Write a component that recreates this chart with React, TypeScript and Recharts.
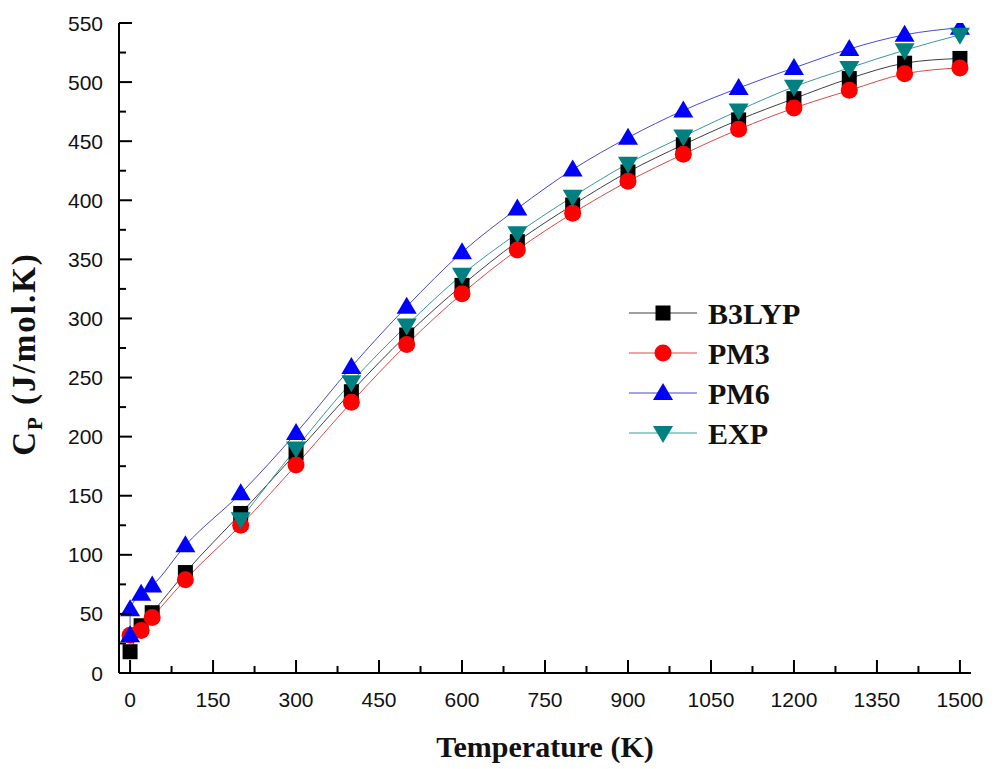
import React from 'react';
import { LineChart, Line, XAxis, YAxis, Legend } from 'recharts';

// temperatures (K)
const TEMPS = [0, 20, 40, 100, 200, 300, 400, 500, 600, 700, 800, 900, 1000, 1100, 1200, 1300, 1400, 1500];
const PM6_TEMPS = [0, 0, 20, 40, 100, 200, 300, 400, 500, 600, 700, 800, 900, 1000, 1100, 1200, 1300, 1400, 1500];
const EXP_TEMPS = [200, 300, 400, 500, 600, 700, 800, 900, 1000, 1100, 1200, 1300, 1400, 1500];

// Cp (J/mol.K)
const B3LYP_CP = [18, 40, 51, 85, 135, 186, 238, 286, 328, 365, 396, 424, 447, 468, 486, 503, 516, 520];
const PM3_CP = [32, 36, 47, 79, 125, 176, 229, 278, 321, 358, 389, 416, 439, 460, 478, 493, 507, 512];
const PM6_CP = [32, 54, 67, 74, 108, 152, 203, 259, 310, 356, 393, 426, 453, 476, 495, 512, 528, 540, 546];
const EXP_CP = [130, 190, 246, 294, 337, 372, 403, 431, 454, 476, 496, 512, 527, 540];

const X_TICKS = [0, 75, 150, 225, 300, 375, 450, 525, 600, 675, 750, 825, 900, 975, 1050, 1125, 1200, 1275, 1350, 1425, 1500];
const Y_TICKS = [0, 25, 50, 75, 100, 125, 150, 175, 200, 225, 250, 275, 300, 325, 350, 375, 400, 425, 450, 475, 500, 525, 550];

const toPoints = (t: number[], v: number[]) => t.map((T, i) => ({ T, cp: v[i] }));

const SERIES = [
  { name: 'B3LYP', data: toPoints(TEMPS, B3LYP_CP), fill: '#000000', line: '#404040', shape: 'square' },
  { name: 'PM3', data: toPoints(TEMPS, PM3_CP), fill: '#ff0000', line: '#e04848', shape: 'circle' },
  { name: 'PM6', data: toPoints(PM6_TEMPS, PM6_CP), fill: '#0000ff', line: '#4848d8', shape: 'up' },
  { name: 'EXP', data: toPoints(EXP_TEMPS, EXP_CP), fill: '#008080', line: '#3a9a9a', shape: 'down' },
];

const SANS = '"Liberation Sans", Arial, sans-serif';
const SERIF = '"Liberation Serif", "Times New Roman", serif';

const Marker = ({ shape, cx, cy, fill }: any) => {
  if (cx == null || cy == null) return null;
  if (shape === 'square') return <rect x={cx - 7.5} y={cy - 7.5} width={15} height={15} fill={fill} />;
  if (shape === 'circle') return <circle cx={cx} cy={cy} r={8.5} fill={fill} />;
  if (shape === 'up')
    return <polygon points={`${cx},${cy - 10} ${cx - 10},${cy + 7} ${cx + 10},${cy + 7}`} fill={fill} />;
  return <polygon points={`${cx - 10},${cy - 7} ${cx + 10},${cy - 7} ${cx},${cy + 10}`} fill={fill} />;
};

const tickText = { fontFamily: SANS, fontSize: 21, fill: '#111' };
const titleText = { fontFamily: SERIF, fontWeight: 'bold', fontSize: 30, fill: '#111' };

const BottomTick = ({ x, y, payload }: any) => {
  const major = payload.value % 150 === 0;
  return (
    <g>
      <line x1={x} y1={y} x2={x} y2={y - (major ? 13 : 7)} stroke="#000" strokeWidth={2} />
      {major && (
        <text x={x} y={y + 34} textAnchor="middle" style={tickText}>
          {payload.value}
        </text>
      )}
    </g>
  );
};

const TopTick = ({ x, y, payload }: any) => {
  const major = payload.value % 150 === 0;
  return <line x1={x} y1={y} x2={x} y2={y + (major ? 13 : 7)} stroke="#000" strokeWidth={2} />;
};

const LeftTick = ({ x, y, payload }: any) => {
  const major = payload.value % 50 === 0;
  return (
    <g>
      <line x1={x} y1={y} x2={x + (major ? 13 : 7)} y2={y} stroke="#000" strokeWidth={2} />
      {major && (
        <text x={x - 16} y={y} dy="0.36em" textAnchor="end" style={tickText}>
          {payload.value}
        </text>
      )}
    </g>
  );
};

const RightTick = ({ x, y, payload }: any) => {
  const major = payload.value % 50 === 0;
  return <line x1={x} y1={y} x2={x - (major ? 13 : 7)} y2={y} stroke="#000" strokeWidth={2} />;
};

const XTitle = ({ viewBox }: any) => (
  <text x={viewBox.x + viewBox.width / 2} y={viewBox.y + 84} textAnchor="middle" style={titleText}>
    Temperature (K)
  </text>
);

const YTitle = ({ viewBox }: any) => {
  const cx = viewBox.x - 14;
  const cy = viewBox.y + viewBox.height / 2 + 6;
  return (
    <text
      x={cx}
      y={cy}
      textAnchor="middle"
      transform={`rotate(-90, ${cx}, ${cy})`}
      style={{ ...titleText, fontSize: 33, letterSpacing: 2 }}
    >
      C
      <tspan fontSize={21} dy={7}>P</tspan>
      <tspan dy={-7}> (J/mol.K)</tspan>
    </text>
  );
};

const LegendBox = () => (
  <svg width={210} height={170}>
    {SERIES.map((s, i) => {
      const y = 23 + i * 40;
      return (
        <g key={s.name}>
          <line x1={9} y1={y} x2={77} y2={y} stroke={s.line} strokeWidth={1.2} />
          <Marker shape={s.shape} cx={43} cy={y} fill={s.fill} />
          <text x={88} y={y} dy="0.35em" style={titleText}>
            {s.name}
          </text>
        </g>
      );
    })}
  </svg>
);

export default function App() {
  return (
    <div style={{ position: 'absolute', left: 0, top: 0, width: 995, height: 769, background: '#fff' }}>
      <LineChart width={995} height={769} margin={{ top: 23, right: 24, bottom: 56, left: 49 }}>
        <XAxis
          xAxisId="b"
          dataKey="T"
          type="number"
          domain={[-20, 1520]}
          ticks={X_TICKS}
          interval={0}
          height={40}
          tickSize={0}
          tickMargin={0}
          tickLine={false}
          tick={<BottomTick />}
          axisLine={{ stroke: '#000', strokeWidth: 2 }}
          allowDataOverflow
          label={{ content: <XTitle /> }}
        />
        <XAxis
          xAxisId="t"
          orientation="top"
          dataKey="T"
          type="number"
          domain={[-20, 1520]}
          ticks={X_TICKS}
          interval={0}
          height={0}
          tickSize={0}
          tickMargin={0}
          tickLine={false}
          tick={<TopTick />}
          axisLine={{ stroke: '#000', strokeWidth: 2 }}
          allowDataOverflow
        />
        <YAxis
          yAxisId="l"
          type="number"
          domain={[0, 550]}
          ticks={Y_TICKS}
          interval={0}
          width={70}
          tickSize={0}
          tickMargin={0}
          tickLine={false}
          tick={<LeftTick />}
          axisLine={{ stroke: '#000', strokeWidth: 2 }}
          allowDataOverflow
          label={{ content: <YTitle /> }}
        />
        <YAxis
          yAxisId="r"
          orientation="right"
          type="number"
          domain={[0, 550]}
          ticks={Y_TICKS}
          interval={0}
          width={0}
          tickSize={0}
          tickMargin={0}
          tickLine={false}
          tick={<RightTick />}
          axisLine={{ stroke: '#000', strokeWidth: 2 }}
          allowDataOverflow
        />
        <Legend
          layout="vertical"
          align="center"
          verticalAlign="middle"
          content={<LegendBox />}
          wrapperStyle={{ position: 'absolute', left: 620, top: 290, width: 210, height: 170 }}
        />
        {SERIES.map((s) => (
          <Line
            key={s.name}
            xAxisId="b"
            yAxisId="l"
            data={s.data}
            dataKey="cp"
            name={s.name}
            type="monotone"
            stroke={s.line}
            strokeWidth={1}
            isAnimationActive={false}
            dot={(p: any) => <Marker key={`${s.name}-${p.index}`} shape={s.shape} cx={p.cx} cy={p.cy} fill={s.fill} />}
            activeDot={false}
          />
        ))}
      </LineChart>
    </div>
  );
}
